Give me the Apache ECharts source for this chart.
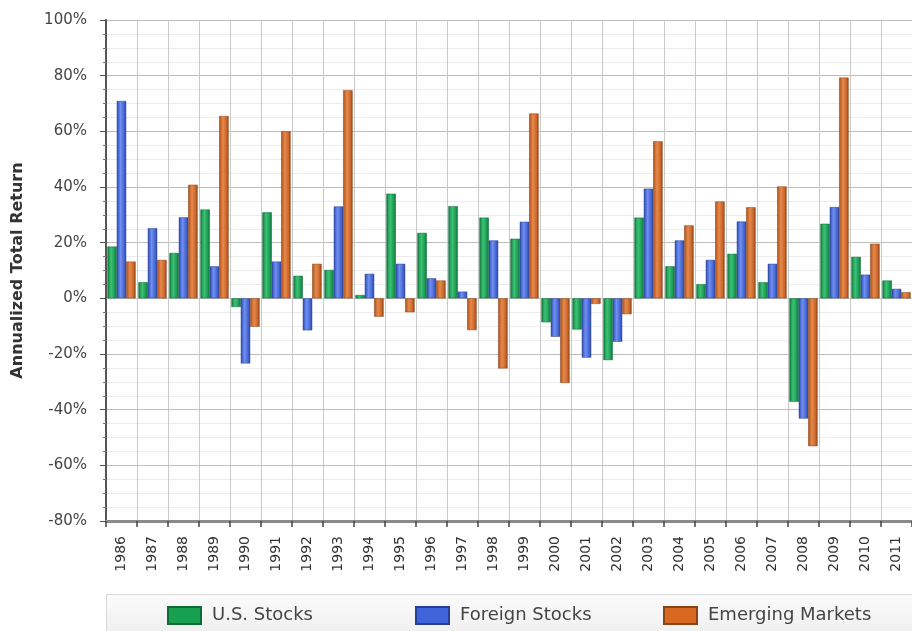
<!DOCTYPE html>
<html>
<head>
<meta charset="utf-8">
<script src="https://cdn.jsdelivr.net/npm/echarts@6/dist/echarts.min.js"></script>
<style>
html,body{margin:0;padding:0;background:#fff;}
#chart{width:912px;height:631px;}
</style>
</head>
<body>
<div id="chart"></div>
<script>
const years = ['1986','1987','1988','1989','1990','1991','1992','1993','1994','1995','1996','1997','1998','1999','2000','2001','2002','2003','2004','2005','2006','2007','2008','2009','2010','2011'];
const usStocks = [18.6,5.8,16.3,31.9,-3.1,30.9,8.1,10.2,1.2,37.6,23.5,33.1,29.0,21.4,-8.6,-11.2,-22.2,29.0,11.5,5.1,16.0,5.8,-37.2,26.8,14.9,6.4];
const foreignStocks = [70.9,25.2,29.1,11.5,-23.4,13.2,-11.5,33.0,8.8,12.4,7.2,2.4,20.8,27.5,-13.8,-21.3,-15.6,39.4,20.8,13.8,27.6,12.4,-43.2,32.8,8.5,3.4];
const emergingMarkets = [13.2,13.8,40.8,65.5,-10.2,60.0,12.4,74.8,-6.6,-5.0,6.4,-11.4,-25.2,66.4,-30.4,-2.0,-5.7,56.4,26.2,34.8,32.7,40.2,-53.1,79.3,19.6,2.2];
const seriesNames = ['U.S. Stocks','Foreign Stocks','Emerging Markets'];
const yTicks = {min:-80, max:100, interval:20};

function barGrad(dark, light, base){
  return new echarts.graphic.LinearGradient(0,0,1,0,[
    {offset:0,color:dark},{offset:0.15,color:base},{offset:0.4,color:light},{offset:0.8,color:base},{offset:1,color:dark}
  ]);
}
const colors = [
  {dark:'#0f6b34', light:'#3cc277', base:'#1c9850', legend:'#16a04f'},
  {dark:'#263f96', light:'#6f90f0', base:'#4363d0', legend:'#3f63d8'},
  {dark:'#8a4317', light:'#e88a4c', base:'#c6642a', legend:'#d8681f'}
];
const dataArr = [usStocks, foreignStocks, emergingMarkets];

const chart = echarts.init(document.getElementById('chart'), null, {renderer:'canvas'});
const font = 'DejaVu Sans, Verdana, sans-serif';

const legends = seriesNames.map((n,i)=>({
  left: [167,415,663][i], top: 606, padding:0,
  itemWidth:33, itemHeight:17, icon:'rect',
  data:[{name:n, itemStyle:{color:colors[i].legend}}],
  textStyle:{fontSize:18, color:'#444', fontFamily:font, padding:[0,0,0,6]},
  selectedMode:false
}));

chart.setOption({
  animation:false,
  backgroundColor:'#fff',
  graphic:[{
    type:'rect', z:-1, silent:true,
    shape:{x:106.5,y:594.5,width:810,height:50},
    style:{fill:new echarts.graphic.LinearGradient(0,0,0,1,[{offset:0,color:'#fbfbfb'},{offset:1,color:'#ececec'}]), stroke:'#d8d8d8', lineWidth:1}
  }],
  legend: legends,
  grid:{left:106, right:-5, top:20, bottom:110, containLabel:false},
  xAxis:{
    type:'category', data:years,
    axisLine:{show:true, onZero:false, lineStyle:{color:'#8a8a8a', width:3}},
    axisTick:{show:true, length:6, lineStyle:{color:'#444', width:1.5}},
    axisLabel:{rotate:90, fontSize:14, color:'#333', fontFamily:font, margin:15},
    splitLine:{show:true, lineStyle:{color:'#c8c8c8', width:1}}
  },
  yAxis:{
    type:'value', min:yTicks.min, max:yTicks.max, interval:yTicks.interval,
    name:'Annualized Total Return', nameLocation:'middle', nameGap:80, nameRotate:90,
    nameTextStyle:{fontSize:16, fontWeight:'bold', color:'#333', fontFamily:font},
    axisLine:{show:true, lineStyle:{color:'#555', width:2}},
    axisTick:{show:true, length:6, lineStyle:{color:'#555'}},
    minorTick:{show:true, splitNumber:4, length:3, lineStyle:{color:'#777'}},
    axisLabel:{formatter:'{value}%', fontSize:15, color:'#444', fontFamily:font, margin:19},
    splitLine:{show:true, lineStyle:{color:'#bdbdbd', width:1}},
    minorSplitLine:{show:true, lineStyle:{color:'#ececec', width:1}}
  },
  series: dataArr.map((d,i)=>({
    name:seriesNames[i], type:'bar', data:d,
    barGap:'0%', barCategoryGap:'9%',
    itemStyle:{color:barGrad(colors[i].dark, colors[i].light, colors[i].base), borderColor:colors[i].dark, borderWidth:0.5}
  }))
});
</script>
</body>
</html>
